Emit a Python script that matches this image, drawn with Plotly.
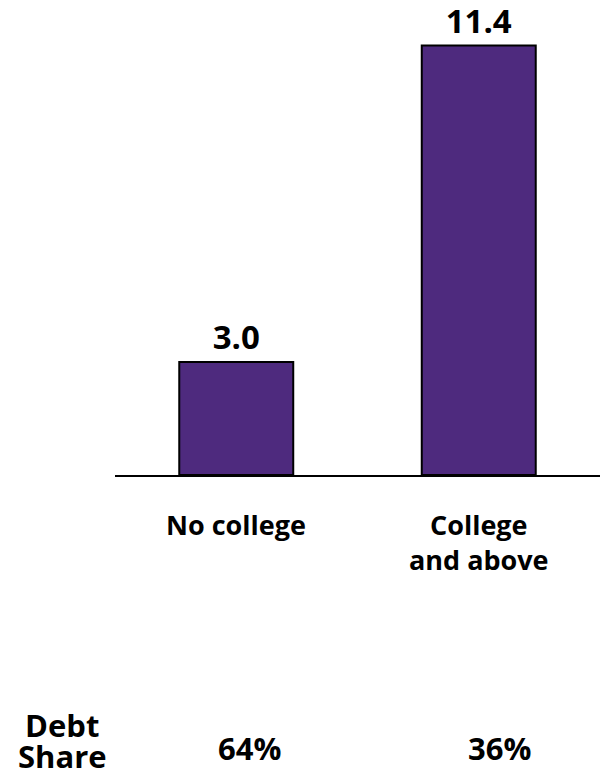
import plotly.graph_objects as go

# Data
categories = ["No college", "College<br>and above"]
values = [3.0, 11.4]
debt_share = [64, 36]
share_title = ["Debt", "Share"]

FONT = "Open Sans"
BAR_COLOR = "#4E2A7E"

fig = go.Figure()
fig.add_trace(go.Bar(
    x=list(range(len(categories))),
    y=values,
    width=0.47,
    marker=dict(color=BAR_COLOR, line=dict(color="black", width=2)),
    texttemplate="<b>%{y:.1f}</b>",
    textposition="outside",
    textfont=dict(family=FONT, size=33, color="black"),
    cliponaxis=False,
    hoverinfo="skip",
))

annotations = []
# category labels under the baseline
for i, cat in enumerate(categories):
    annotations.append(dict(
        x=i, xref="x", y=-0.065, yref="paper",
        text=f"<b>{cat}</b>", showarrow=False,
        xanchor="center", yanchor="top",
        font=dict(family=FONT, size=27, color="black"),
    ))

# debt share row
share_shift = [13, 21]
for i, s in enumerate(debt_share):
    annotations.append(dict(
        x=i, xref="x", xshift=share_shift[i], y=-0.605, yref="paper",
        text=f"<b>{s}%</b>", showarrow=False,
        xanchor="center", yanchor="middle",
        font=dict(family=FONT, size=31, color="black"),
    ))

# row title, one line each
for j, word in enumerate(share_title):
    annotations.append(dict(
        x=62, xref="paper", y=-0.552 - j * 0.07, yref="paper",
        text=f"<b>{word}</b>", showarrow=False,
        xanchor="center", yanchor="middle",
        font=dict(family=FONT, size=31, color="black"),
    ))

# convert the row-title x from pixels to paper units
plot_left, plot_width = 115, 485
for a in annotations:
    if a.get("xref") == "paper":
        a["x"] = (a["x"] - plot_left) / plot_width

fig.update_layout(
    width=600, height=774,
    margin=dict(l=115, r=0, t=23, b=299),
    plot_bgcolor="white", paper_bgcolor="white",
    showlegend=False,
    bargap=0.5,
    annotations=annotations,
    xaxis=dict(
        range=[-0.5, 1.5], showline=True, linecolor="black", linewidth=2,
        showticklabels=False, ticks="", showgrid=False, zeroline=False,
        fixedrange=True,
    ),
    yaxis=dict(
        range=[0, 12], visible=False, showgrid=False, zeroline=False,
        fixedrange=True,
    ),
)

fig.write_html("out.html")
